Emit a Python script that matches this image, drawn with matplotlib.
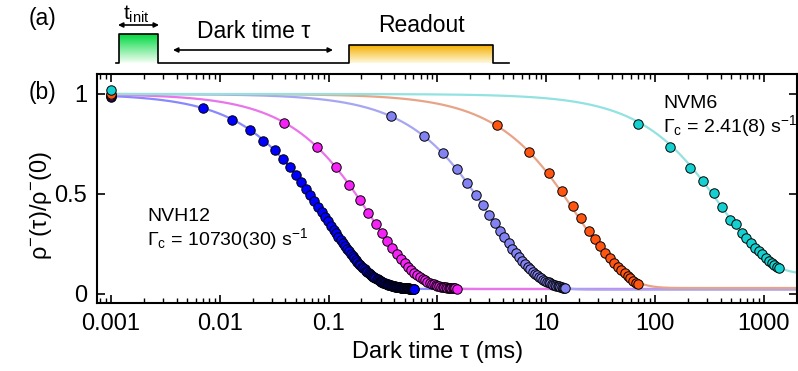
import numpy as np
import matplotlib
matplotlib.use("Agg")
import matplotlib.pyplot as plt
from matplotlib.colors import LinearSegmentedColormap
from matplotlib.ticker import FixedLocator, FixedFormatter, LogLocator, NullFormatter

plt.rcParams['font.family'] = ['Liberation Sans', 'DejaVu Sans']
plt.rcParams['mathtext.fontset'] = 'custom'
plt.rcParams['mathtext.rm'] = 'Liberation Sans'
plt.rcParams['mathtext.it'] = 'Liberation Sans'
plt.rcParams['mathtext.default'] = 'regular'

# ---------------- data ----------------
# dark time in ms; first point of every series is at 0.001 ms
blue_tau_us = [1, 7, 13, 19, 25, 32, 38, 44, 50, 56, 62,
               68, 74, 80, 86, 93, 99, 105, 111, 117, 123,
               129, 135, 141, 147, 154, 160, 166, 172, 178, 184,
               190, 196, 202, 208, 215, 221, 227, 233, 239, 245,
               251, 257, 263, 269, 276, 282, 288, 294, 300, 306,
               312, 318, 324, 330, 337, 343, 349, 355, 361, 367,
               373, 379, 385, 391, 398, 404, 410, 416, 422, 428,
               434, 440, 446, 452, 459, 465, 471, 477, 483, 489,
               495, 501, 507, 513, 520, 526, 532, 538, 544, 550,
               556, 562, 568, 574, 581, 587, 593, 599, 605, 611]
blue_val = [0.985, 0.928, 0.871, 0.818, 0.767, 0.720, 0.676, 0.635, 0.596, 0.560, 0.526,
            0.495, 0.465, 0.437, 0.411, 0.386, 0.364, 0.342, 0.322, 0.303, 0.286,
            0.269, 0.254, 0.239, 0.226, 0.213, 0.201, 0.190, 0.179, 0.170, 0.160,
            0.152, 0.144, 0.136, 0.129, 0.123, 0.116, 0.111, 0.105, 0.100, 0.095,
            0.091, 0.087, 0.083, 0.079, 0.076, 0.073, 0.070, 0.067, 0.064, 0.062,
            0.059, 0.057, 0.055, 0.053, 0.051, 0.050, 0.048, 0.047, 0.045, 0.044,
            0.043, 0.042, 0.041, 0.040, 0.039, 0.038, 0.037, 0.036, 0.036, 0.035,
            0.034, 0.034, 0.033, 0.033, 0.032, 0.032, 0.031, 0.031, 0.030, 0.030,
            0.030, 0.030, 0.029, 0.029, 0.029, 0.028, 0.028, 0.028, 0.028, 0.027,
            0.027, 0.027, 0.027, 0.027, 0.027, 0.026, 0.026, 0.026, 0.026, 0.026]

magenta_tau = [0.001, 0.039, 0.078, 0.116, 0.155, 0.193, 0.231, 0.270, 0.308, 0.347, 0.385,
               0.423, 0.462, 0.500, 0.539, 0.577, 0.615, 0.654, 0.692, 0.731, 0.769,
               0.807, 0.846, 0.884, 0.923, 0.961, 0.999, 1.038, 1.076, 1.115, 1.153,
               1.191, 1.230, 1.268, 1.307, 1.345, 1.383, 1.422, 1.460, 1.499]
magenta_val = [0.990, 0.856, 0.737, 0.634, 0.546, 0.471, 0.407, 0.352, 0.305, 0.265, 0.230,
               0.201, 0.175, 0.154, 0.135, 0.119, 0.106, 0.094, 0.084, 0.076, 0.068,
               0.062, 0.057, 0.052, 0.048, 0.045, 0.042, 0.040, 0.037, 0.036, 0.034,
               0.033, 0.032, 0.031, 0.030, 0.029, 0.029, 0.028, 0.028, 0.027]

lavender_tau = [0.001, 0.376, 0.751, 1.126, 1.501, 1.876, 2.251, 2.626, 3.001, 3.376, 3.751,
                4.126, 4.501, 4.876, 5.251, 5.626, 6.001, 6.376, 6.751, 7.126, 7.501,
                7.876, 8.251, 8.626, 9.001, 9.376, 9.751, 10.126, 10.501, 10.876, 11.251,
                11.626, 12.001, 12.376, 12.751, 13.126, 13.501, 13.876, 14.251, 14.626, 15.001]
lavender_val = [0.993, 0.889, 0.790, 0.703, 0.626, 0.557, 0.497, 0.443, 0.395, 0.353, 0.316,
                0.283, 0.253, 0.227, 0.204, 0.184, 0.166, 0.150, 0.135, 0.123, 0.112,
                0.102, 0.093, 0.085, 0.078, 0.072, 0.067, 0.062, 0.058, 0.054, 0.051,
                0.047, 0.044, 0.042, 0.040, 0.038, 0.036, 0.034, 0.032, 0.030, 0.028]

orange_tau = [0.001, 3.5, 7.0, 10.5, 14.0, 17.5, 21.0, 24.5, 28.0, 31.5, 35.0,
              38.5, 42.0, 45.5, 49.0, 52.5, 56.0, 59.5, 63.0, 66.5, 70.0]
orange_val = [1.000, 0.844, 0.710, 0.604, 0.515, 0.440, 0.378, 0.317, 0.275, 0.240, 0.205,
              0.180, 0.157, 0.137, 0.120, 0.103, 0.090, 0.078, 0.067, 0.057, 0.048]

cyan_tau = [0.001, 69.3, 138.6, 207.9, 277.2, 346.5, 415.8, 485.1, 554.4, 623.7, 693.0,
            762.3, 831.6, 900.9, 970.2, 1039.5, 1108.8, 1178.1, 1247.4, 1316.7, 1386.0]
cyan_val = [1.022, 0.848, 0.735, 0.630, 0.563, 0.505, 0.437, 0.372, 0.350, 0.307, 0.280,
            0.255, 0.230, 0.213, 0.200, 0.180, 0.167, 0.155, 0.146, 0.137, 0.128]

# fitted decay: rho = c + (1-c) exp(-Gamma * tau)
fit_rate_per_ms = [10.73, 4.05, 0.323, 0.051, 0.00241]
fit_offset = [0.025, 0.025, 0.022, 0.03, 0.10]

x_ticks = [0.001, 0.01, 0.1, 1, 10, 100, 1000]
x_tick_labels = ['0.001', '0.01', '0.1', '1', '10', '100', '1000']
y_ticks = [0, 0.5, 1]
y_tick_labels = ['0', '0.5', '1']

marker_colors = ['#0000ff', '#f522f5', '#8282f2', '#ff5511', '#14d0d0']
line_colors = ['#8888ff', '#ea74ea', '#a6a6f2', '#e8a488', '#92e2e2']

# ---------------- figure ----------------
W, H = 798, 371
fig = plt.figure(figsize=(W / 100, H / 100), dpi=100)
ax = fig.add_axes([97 / W, (H - 303) / H, 700 / W, 229 / H])

series = [
    (np.array(blue_tau_us) / 1000.0, blue_val),
    (magenta_tau, magenta_val),
    (lavender_tau, lavender_val),
    (orange_tau, orange_val),
    (cyan_tau, cyan_val),
]

xfit = np.logspace(-3, np.log10(2100), 600)
for i, (rate, c) in enumerate(zip(fit_rate_per_ms, fit_offset)):
    ax.plot(xfit, c + (1 - c) * np.exp(-rate * xfit), color=line_colors[i], lw=1.6, zorder=1)

for i, (t, v) in enumerate(series):
    ax.plot(t, v, 'o', ls='none', ms=6.8, mfc=marker_colors[i], mec='black', mew=0.7,
            zorder=3 + i)

ax.set_xscale('log')
ax.set_xlim(7.43e-4, 2018)
ax.set_ylim(-0.045, 1.10)
ax.xaxis.set_major_locator(FixedLocator(x_ticks))
ax.xaxis.set_major_formatter(FixedFormatter(x_tick_labels))
ax.xaxis.set_minor_locator(LogLocator(base=10, subs=np.arange(2, 10), numticks=20))
ax.xaxis.set_minor_formatter(NullFormatter())
ax.yaxis.set_major_locator(FixedLocator(y_ticks))
ax.yaxis.set_major_formatter(FixedFormatter(y_tick_labels))
ax.tick_params(which='both', direction='in', top=True, right=True, labelsize=17)
ax.tick_params(which='major', length=6, width=1.2, pad=7)
ax.tick_params(which='minor', length=3.5, width=1.0)
for s in ax.spines.values():
    s.set_linewidth(1.5)

# ---------------- overlay in pixel coordinates ----------------
ov = fig.add_axes([0, 0, 1, 1])
ov.set_xlim(0, W)
ov.set_ylim(H, 0)
ov.axis('off')
ov.set_zorder(10)

ov.text(41, 205, r'$\rho^{-}(\tau)/\rho^{-}(0)$', rotation=90, ha='center', va='center', fontsize=17)
ov.text(438, 352, 'Dark time τ (ms)', ha='center', va='center', fontsize=17)
ov.text(43, 19, '(a)', ha='center', va='center', fontsize=16.5)
ov.text(43, 92, '(b)', ha='center', va='center', fontsize=16.5)

ov.text(147, 221, 'NVH12', ha='left', va='baseline', fontsize=14)
ov.text(147, 245, r'$\Gamma_c$ = 10730(30) s$^{-1}$', ha='left', va='baseline', fontsize=14)
ov.text(663, 108, 'NVM6', ha='left', va='baseline', fontsize=14)
ov.text(663, 132, r'$\Gamma_c$ = 2.41(8) s$^{-1}$', ha='left', va='baseline', fontsize=14)

# pulse sequence schematic
base_y = 63
grad = np.linspace(0, 1, 100).reshape(-1, 1)
green_cmap = LinearSegmentedColormap.from_list('g', ['#00d840', '#f4fff4'])
gold_cmap = LinearSegmentedColormap.from_list('o', ['#f5b000', '#fff8dc'])
ov.imshow(grad, cmap=green_cmap, extent=[119, 158, base_y, 34], aspect='auto',
          origin='upper', zorder=1)
ov.imshow(grad, cmap=gold_cmap, extent=[349, 493, base_y, 45], aspect='auto',
          origin='upper', zorder=1)
ov.set_xlim(0, W)
ov.set_ylim(H, 0)
px = [116, 119, 119, 158, 158, 349, 349, 493, 493, 509]
py = [base_y, base_y, 34, 34, base_y, base_y, 45, 45, base_y, base_y]
ov.plot(px, py, color='black', lw=1.2, zorder=2)

ov.annotate('', xy=(118, 25), xytext=(159, 25),
            arrowprops=dict(arrowstyle='<|-|>', lw=1.2, color='black', mutation_scale=7,
                            shrinkA=0, shrinkB=0))
ov.annotate('', xy=(173, 50), xytext=(333, 50),
            arrowprops=dict(arrowstyle='<|-|>', lw=1.2, color='black', mutation_scale=7,
                            shrinkA=0, shrinkB=0))
ov.text(136, 14, r'$t_{init}$', ha='center', va='center', fontsize=15)
ov.text(254, 32, 'Dark time τ', ha='center', va='center', fontsize=16.5)
ov.text(421, 26, 'Readout', ha='center', va='center', fontsize=16.5)

fig.savefig('out.png', dpi=100)
